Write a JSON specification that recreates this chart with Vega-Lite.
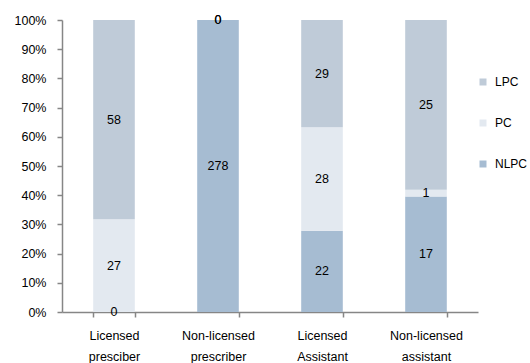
{
  "$schema": "https://vega.github.io/schema/vega-lite/v6.json",
  "autosize": {"type": "none"},
  "padding": {"left": 62, "top": 20, "right": 52, "bottom": 51},
  "width": 416,
  "height": 292,
  "background": "white",
  "config": {
    "font": "Liberation Sans",
    "view": {"stroke": null},
    "axisY": {
      "title": null,
      "format": ".0%",
      "values": [0, 0.1, 0.2, 0.3, 0.4, 0.5, 0.6, 0.7, 0.8, 0.9, 1],
      "labelOverlap": false,
      "grid": false,
      "labelFontSize": 12.5,
      "labelColor": "#000000",
      "labelPadding": 11,
      "tickSize": 5,
      "tickColor": "#868686",
      "domainColor": "#868686",
      "domainWidth": 1.5,
      "tickWidth": 1.5
    }
  },
  "data": {
    "values": [
      {"category": "Licensed presciber", "series": "NLPC", "value": 0},
      {"category": "Licensed presciber", "series": "PC", "value": 27},
      {"category": "Licensed presciber", "series": "LPC", "value": 58},
      {"category": "Non-licensed prescriber", "series": "NLPC", "value": 278},
      {"category": "Non-licensed prescriber", "series": "PC", "value": 0},
      {"category": "Non-licensed prescriber", "series": "LPC", "value": 0},
      {"category": "Licensed Assistant", "series": "NLPC", "value": 22},
      {"category": "Licensed Assistant", "series": "PC", "value": 28},
      {"category": "Licensed Assistant", "series": "LPC", "value": 29},
      {"category": "Non-licensed assistant", "series": "NLPC", "value": 17},
      {"category": "Non-licensed assistant", "series": "PC", "value": 1},
      {"category": "Non-licensed assistant", "series": "LPC", "value": 25}
    ]
  },
  "transform": [
    {"calculate": "indexof(['NLPC','PC','LPC'], datum.series)", "as": "rank"},
    {"stack": "value", "groupby": ["category"], "sort": [{"field": "rank", "order": "ascending"}], "offset": "normalize", "as": ["y0", "y1"]},
    {"calculate": "(datum.y0 + datum.y1) / 2", "as": "ymid"}
  ],
  "encoding": {
    "x": {
      "field": "category",
      "type": "nominal",
      "sort": ["Licensed presciber", "Non-licensed prescriber", "Licensed Assistant", "Non-licensed assistant"],
      "scale": {"paddingInner": 0.6, "paddingOuter": 0.3},
      "axis": {
        "title": null,
        "labelAngle": 0,
        "labelExpr": "split(datum.label, ' ')",
        "labelLineHeight": 21,
        "labelFontSize": 12.5,
        "labelColor": "#000000",
        "labelPadding": 12,
        "tickBand": "extent",
        "tickSize": 5,
        "tickColor": "#868686",
        "domainColor": "#868686",
        "domainWidth": 1.5,
        "tickWidth": 1.5
      }
    }
  },
  "layer": [
    {
      "mark": {"type": "bar"},
      "encoding": {
        "y": {"field": "y0", "type": "quantitative", "scale": {"domain": [0, 1]}},
        "y2": {"field": "y1"},
        "color": {
          "field": "series",
          "type": "nominal",
          "scale": {"domain": ["LPC", "PC", "NLPC"], "range": ["#bfcbd8", "#e3e9f0", "#a6bcd2"]},
          "legend": {
            "title": null,
            "orient": "none",
            "legendX": 415,
            "legendY": 56,
            "symbolType": "square",
            "symbolSize": 49,
            "symbolStrokeWidth": 0,
            "labelFontSize": 12,
            "labelColor": "#000000",
            "labelOffset": 6,
            "rowPadding": 29
          }
        }
      }
    },
    {
      "mark": {"type": "text", "fontSize": 12.5, "color": "#000000"},
      "encoding": {
        "y": {"field": "ymid", "type": "quantitative"},
        "text": {"field": "value", "type": "quantitative"}
      }
    }
  ]
}
